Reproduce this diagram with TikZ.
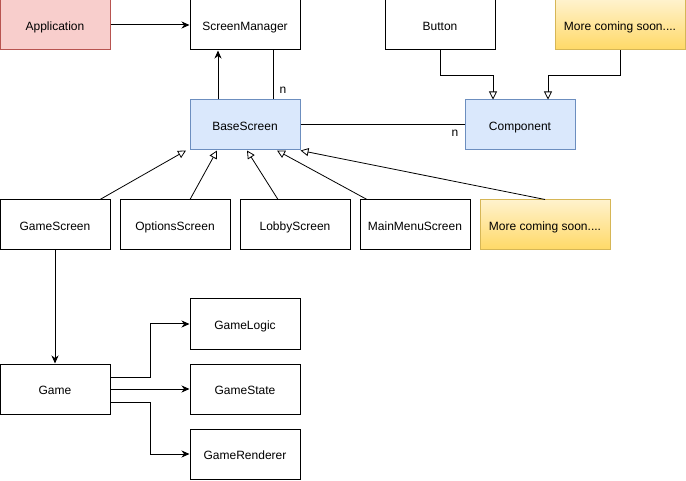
\documentclass[tikz,border=0pt]{standalone}
\usepackage{fontspec}
\setmainfont{Liberation Sans}
\usetikzlibrary{arrows.meta}

\definecolor{redfill}{HTML}{F8CECC}
\definecolor{redline}{HTML}{B85450}
\definecolor{bluefill}{HTML}{DAE8FC}
\definecolor{blueline}{HTML}{6C8EBF}
\definecolor{yellowtop}{HTML}{FFF2CC}
\definecolor{yellowbot}{HTML}{FFD966}
\definecolor{yellowline}{HTML}{D6B656}

\tikzset{
  box/.style={draw,line width=1pt,minimum width=110pt,minimum height=50pt,
    inner sep=0pt,text height=11.5pt,text depth=0pt,
    font=\fontsize{12}{14}\selectfont},
  redbox/.style={box,draw=redline,fill=redfill},
  bluebox/.style={box,draw=blueline,fill=bluefill},
  soonbox/.style={box,minimum width=130pt,draw=yellowline,
    top color=yellowtop,bottom color=yellowbot},
  uses/.style={line width=1pt,-{Stealth[length=8pt,width=7pt,inset=2.5pt]}},
  extends/.style={line width=0.8pt,-{Triangle[open,length=8pt,width=8pt,fill=white]}},
  link/.style={line width=1pt},
  mult/.style={font=\fontsize{12}{14}\selectfont,inner sep=0pt}
}

\begin{document}
\begin{tikzpicture}[x=1pt,y=-1pt]

\useasboundingbox (0,0) rectangle (686,481) ;

% top row
\node[redbox] (app) at (55,25) {Application} ;
\node[box] (scrmgr) at (245,25) {ScreenManager} ;
\node[box] (button) at (440,25) {Button} ;
\node[soonbox] (soontop) at (620,25) {More coming soon....} ;

% middle row
\node[bluebox] (base) at (245,125) {BaseScreen} ;
\node[bluebox] (comp) at (520,125) {Component} ;

% screens
\node[box] (gamescr) at (55,225) {GameScreen} ;
\node[box] (options) at (175,225) {OptionsScreen} ;
\node[box] (lobby) at (295,225) {LobbyScreen} ;
\node[box] (mainmenu) at (415,225) {MainMenuScreen} ;
\node[soonbox] (soonscr) at (545,225) {More coming soon....} ;

% game parts
\node[box] (game) at (55,389) {Game} ;
\node[box] (logic) at (245,324) {GameLogic} ;
\node[box] (state) at (245,389) {GameState} ;
\node[box] (render) at (245,454) {GameRenderer} ;

% associations
\draw[uses] (app) -- (scrmgr) ;
\draw[uses] (base.north -| 218,0) -- (scrmgr.south -| 218,0) ;
\draw[link] (scrmgr.south -| 273,0) -- (base.north -| 273,0) ;
\node[mult] (n1) at (283,90) {n} ;
\draw[link] (base) -- (comp) ;
\node[mult] (n2) at (455,133) {n} ;

% components
\draw[extends] (button.south) |- (493,75) -- (comp.north -| 493,0) ;
\draw[extends] (soontop.south) |- (548,75) -- (comp.north -| 548,0) ;

% screen inheritance
\draw[extends] (gamescr.north -| 100,0) -- (base.south -| 186,0) ;
\draw[extends] (options.north -| 190,0) -- (base.south -| 217,0) ;
\draw[extends] (lobby.north -| 278,0) -- (base.south -| 247,0) ;
\draw[extends] (mainmenu.north -| 367,0) -- (base.south -| 277,0) ;
\draw[extends] (soonscr.north) -- (base.south east) ;

% game
\draw[uses] (gamescr) -- (game) ;
\draw[uses] (game.east |- 0,377) -| (150,324) -- (logic.west) ;
\draw[uses] (game) -- (state) ;
\draw[uses] (game.east |- 0,402) -| (150,454) -- (render.west) ;

\end{tikzpicture}
\end{document}
